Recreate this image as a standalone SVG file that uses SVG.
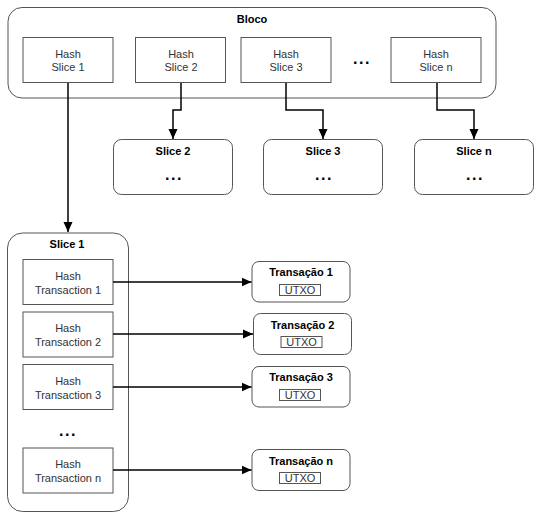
<svg xmlns="http://www.w3.org/2000/svg" width="542" height="519" viewBox="0 0 542 519">
<defs>
<style>
.c{fill:#fff;stroke:#555;stroke-width:1}
.t{font-family:"Liberation Sans",Arial,sans-serif;font-size:11px;fill:#333;text-anchor:middle}
.b{font-family:"Liberation Sans",Arial,sans-serif;font-size:11px;font-weight:bold;fill:#000;text-anchor:middle}
.d{font-family:"Liberation Sans",Arial,sans-serif;font-size:16px;font-weight:bold;fill:#000;text-anchor:middle;letter-spacing:1.5px}
.l{fill:none;stroke:#000;stroke-width:1.5}
.u{fill:#fff;stroke:#555;stroke-width:1}
</style>
<marker id="ar" markerWidth="12" markerHeight="12" refX="10" refY="6" orient="auto" markerUnits="userSpaceOnUse">
<path d="M0,1.5 L10,6 L0,10.5 Z" fill="#000"/>
</marker>
</defs>
<rect width="542" height="519" fill="#fff"/>
<g id="bloco">
<rect class="c" x="8" y="7.5" width="488" height="90.5" rx="14"/>
<text class="b" x="252" y="23">Bloco</text>
<text class="d" x="362" y="64">...</text>
</g>
<g id="hash-slice-1"><rect class="c" x="23" y="37.5" width="90" height="45"/><text class="t" x="68" y="58">Hash</text><text class="t" x="68" y="71">Slice 1</text></g>
<g id="hash-slice-2"><rect class="c" x="135.5" y="37.5" width="90" height="45"/><text class="t" x="181" y="58">Hash</text><text class="t" x="181" y="71">Slice 2</text></g>
<g id="hash-slice-3"><rect class="c" x="241" y="37.5" width="90" height="45"/><text class="t" x="286" y="58">Hash</text><text class="t" x="286" y="71">Slice 3</text></g>
<g id="hash-slice-n"><rect class="c" x="391" y="37.5" width="90" height="45"/><text class="t" x="436" y="58">Hash</text><text class="t" x="436" y="71">Slice n</text></g>
<g id="slice-2"><rect class="c" x="113.5" y="139.5" width="119" height="55" rx="8"/><text class="b" x="173" y="155">Slice 2</text><text class="d" x="174" y="180">...</text></g>
<g id="slice-3"><rect class="c" x="263.5" y="139.5" width="119" height="55" rx="8"/><text class="b" x="323" y="155">Slice 3</text><text class="d" x="324" y="180">...</text></g>
<g id="slice-n"><rect class="c" x="414.5" y="139.5" width="119" height="55" rx="8"/><text class="b" x="474" y="155">Slice n</text><text class="d" x="475" y="180">...</text></g>
<g id="slice-1">
<rect class="c" x="7.5" y="233" width="121" height="278.5" rx="15"/>
<text class="b" x="67" y="248">Slice 1</text>
<text class="d" x="68" y="436">...</text>
</g>
<g id="hash-transaction-1"><rect class="c" x="23" y="259.5" width="90" height="45"/><text class="t" x="68" y="280">Hash</text><text class="t" x="68" y="294">Transaction 1</text></g>
<g id="hash-transaction-2"><rect class="c" x="23" y="312" width="90" height="45"/><text class="t" x="68" y="332">Hash</text><text class="t" x="68" y="346">Transaction 2</text></g>
<g id="hash-transaction-3"><rect class="c" x="23" y="364.5" width="90" height="45"/><text class="t" x="68" y="385">Hash</text><text class="t" x="68" y="399">Transaction 3</text></g>
<g id="hash-transaction-n"><rect class="c" x="23" y="448" width="90" height="45"/><text class="t" x="68" y="468">Hash</text><text class="t" x="68" y="482">Transaction n</text></g>
<g id="transacao-1"><rect class="c" x="252" y="261.5" width="98" height="40.5" rx="7"/><text class="b" x="301" y="276">Transação 1</text><rect class="u" x="279.5" y="284.5" width="41" height="11"/><text class="t" x="300" y="294">UTXO</text></g>
<g id="transacao-2"><rect class="c" x="253.5" y="313.5" width="98" height="41" rx="7"/><text class="b" x="302.5" y="329">Transação 2</text><rect class="u" x="281" y="336.5" width="41" height="11"/><text class="t" x="301.5" y="346">UTXO</text></g>
<g id="transacao-3"><rect class="c" x="252" y="366.5" width="98" height="40.5" rx="7"/><text class="b" x="301" y="381">Transação 3</text><rect class="u" x="279.5" y="389.5" width="41" height="11"/><text class="t" x="300" y="399">UTXO</text></g>
<g id="transacao-n"><rect class="c" x="252" y="449.5" width="98" height="41" rx="7"/><text class="b" x="301" y="465">Transação n</text><rect class="u" x="279.5" y="472.5" width="41" height="11"/><text class="t" x="300" y="482">UTXO</text></g>
<g id="connectors">
<path class="l" d="M68,83 V232" marker-end="url(#ar)"/>
<path class="l" d="M181,83 V110 H173 V139" marker-end="url(#ar)"/>
<path class="l" d="M286,83 V110 H323 V139" marker-end="url(#ar)"/>
<path class="l" d="M437,83 V110 H474 V139" marker-end="url(#ar)"/>
<path class="l" d="M113,282 H251.5" marker-end="url(#ar)"/>
<path class="l" d="M113,334 H253" marker-end="url(#ar)"/>
<path class="l" d="M113,387 H251.5" marker-end="url(#ar)"/>
<path class="l" d="M113,470 H251.5" marker-end="url(#ar)"/>
</g>
</svg>
